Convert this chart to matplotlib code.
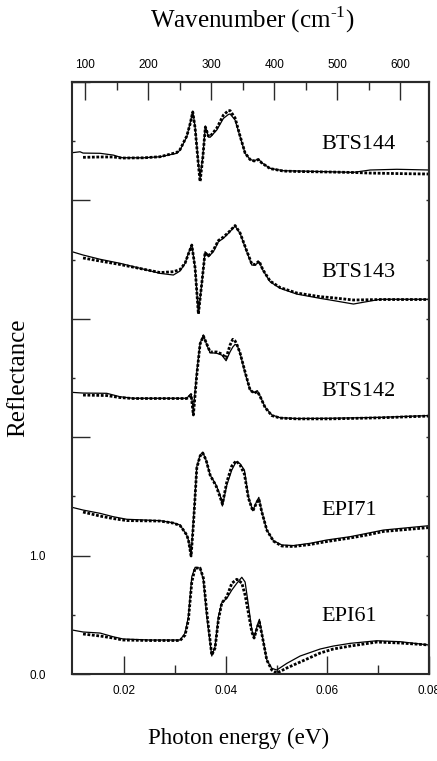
import numpy as np
import matplotlib
matplotlib.use("Agg")
import matplotlib.pyplot as plt
from matplotlib.ticker import FixedLocator, FixedFormatter, NullFormatter

plt.rcParams['mathtext.fontset'] = 'custom'
plt.rcParams['mathtext.rm'] = 'Liberation Serif'

nan = np.nan
EV_TO_CM = 8065.54

# sample names and vertical offsets
samples = ["EPI61", "EPI71", "BTS142", "BTS143", "BTS144"]
offsets = [0, 1, 2, 3, 4]

# EPI61: photon energy (eV), measured, fit
e_epi61 = [0.00976, 0.01193, 0.01528, 0.01783, 0.01980, 0.02512, 0.03102, 0.03201,
           0.03266, 0.03333, 0.03398, 0.03496, 0.03561, 0.03628, 0.03726, 0.03791,
           0.03856, 0.03923, 0.04022, 0.04120, 0.04218, 0.04317, 0.04382, 0.04447,
           0.04514, 0.04559, 0.04624, 0.04663, 0.04711, 0.04809, 0.04907, 0.05006,
           0.05203, 0.05465, 0.05858, 0.06114, 0.06449, 0.06974, 0.07433, 0.08004]
r_epi61 = [0.372, 0.355, 0.346, 0.315, 0.296, 0.287, 0.287, 0.346,
           0.484, 0.822, 0.901, 0.895, 0.794, 0.484, 0.152, 0.231,
           0.484, 0.602, 0.639, 0.709, 0.766, 0.817, 0.777, 0.583,
           0.372, 0.302, 0.414, 0.462, 0.344, 0.118, 0.048, 0.034,
           0.090, 0.152, 0.211, 0.236, 0.259, 0.281, 0.273, 0.245]
f_epi61 = [nan, 0.338, 0.321, 0.304, 0.287, 0.283, 0.283, 0.329,
           0.456, 0.777, 0.895, 0.895, 0.811, 0.524, 0.160, 0.220,
           0.456, 0.600, 0.653, 0.766, 0.800, 0.769, 0.667, 0.515,
           0.355, 0.304, 0.397, 0.439, 0.338, 0.118, 0.034, 0.008,
           0.051, 0.101, 0.177, 0.211, 0.236, 0.270, 0.262, 0.245]

# EPI71
e_epi71 = [0.00976, 0.01193, 0.01528, 0.01783, 0.02053, 0.02709, 0.02965, 0.03102,
           0.03167, 0.03234, 0.03266, 0.03319, 0.03364, 0.03388, 0.03431, 0.03496,
           0.03549, 0.03614, 0.03693, 0.03811, 0.03890, 0.03935, 0.04022, 0.04120,
           0.04205, 0.04283, 0.04368, 0.04447, 0.04533, 0.04598, 0.04652, 0.04711,
           0.04809, 0.04939, 0.05104, 0.05333, 0.05661, 0.05990, 0.06449, 0.06778,
           0.07104, 0.08004]
r_epi71 = [0.408, 0.385, 0.357, 0.329, 0.307, 0.295, 0.278, 0.258,
           0.216, 0.174, 0.132, 0.005, 0.301, 0.444, 0.751, 0.850,
           0.872, 0.807, 0.681, 0.596, 0.512, 0.419, 0.596, 0.723,
           0.793, 0.776, 0.723, 0.497, 0.379, 0.447, 0.492, 0.371,
           0.216, 0.126, 0.090, 0.085, 0.104, 0.132, 0.160, 0.188,
           0.216, 0.253]
f_epi71 = [nan, 0.368, 0.334, 0.313, 0.296, 0.292, 0.275, 0.254,
           0.216, 0.174, 0.132, -0.003, 0.258, 0.427, 0.740, 0.841,
           0.867, 0.807, 0.681, 0.588, 0.495, 0.436, 0.622, 0.757,
           0.800, 0.765, 0.689, 0.486, 0.377, 0.436, 0.478, 0.368,
           0.216, 0.123, 0.081, 0.077, 0.094, 0.119, 0.149, 0.174,
           0.204, 0.237]

# BTS142
e_bts142 = [0.00976, 0.01193, 0.01659, 0.01921, 0.02177, 0.02709, 0.03234, 0.03319,
            0.03364, 0.03431, 0.03496, 0.03561, 0.03628, 0.03693, 0.03825, 0.03923,
            0.04008, 0.04087, 0.04140, 0.04185, 0.04224, 0.04283, 0.04382, 0.04480,
            0.04559, 0.04624, 0.04677, 0.04776, 0.04907, 0.05071, 0.05400, 0.06055,
            0.07039, 0.08004]
r_bts142 = [0.379, 0.373, 0.371, 0.342, 0.329, 0.329, 0.329, 0.369,
            0.230, 0.551, 0.793, 0.863, 0.779, 0.714, 0.709, 0.694,
            0.646, 0.722, 0.762, 0.784, 0.779, 0.709, 0.540, 0.399,
            0.376, 0.393, 0.348, 0.253, 0.188, 0.165, 0.158, 0.160,
            0.168, 0.183]
f_bts142 = [nan, 0.356, 0.352, 0.335, 0.327, 0.327, 0.327, 0.356,
            0.188, 0.525, 0.787, 0.855, 0.787, 0.720, 0.720, 0.703,
            0.669, 0.780, 0.827, 0.813, 0.779, 0.711, 0.551, 0.399,
            0.373, 0.386, 0.344, 0.251, 0.183, 0.162, 0.155, 0.155,
            0.164, 0.179]

# BTS143
e_bts143 = [0.00976, 0.01193, 0.01528, 0.01921, 0.02315, 0.02709, 0.02970, 0.03102,
            0.03201, 0.03266, 0.03333, 0.03398, 0.03463, 0.03530, 0.03594, 0.03659,
            0.03758, 0.03856, 0.03955, 0.04053, 0.04185, 0.04283, 0.04415, 0.04514,
            0.04579, 0.04657, 0.04730, 0.04874, 0.05071, 0.05400, 0.05858, 0.06055,
            0.06514, 0.07039, 0.08004]
r_bts143 = [0.567, 0.539, 0.503, 0.469, 0.427, 0.384, 0.370, 0.404,
            0.469, 0.553, 0.628, 0.429, 0.046, 0.300, 0.567, 0.524,
            0.567, 0.651, 0.680, 0.722, 0.784, 0.722, 0.567, 0.454,
            0.454, 0.482, 0.412, 0.313, 0.258, 0.209, 0.173, 0.159,
            0.125, 0.165, 0.165]
f_bts143 = [nan, 0.514, 0.488, 0.459, 0.425, 0.391, 0.398, 0.416,
            0.471, 0.547, 0.623, 0.429, 0.041, 0.302, 0.560, 0.530,
            0.581, 0.661, 0.691, 0.729, 0.788, 0.725, 0.573, 0.463,
            0.459, 0.488, 0.416, 0.319, 0.264, 0.218, 0.187, 0.180,
            0.159, 0.163, 0.163]

# BTS144
e_bts144 = [0.00976, 0.01134, 0.01193, 0.01528, 0.01789, 0.01955, 0.02380, 0.02709,
            0.03037, 0.03102, 0.03234, 0.03299, 0.03352, 0.03398, 0.03463, 0.03496,
            0.03549, 0.03600, 0.03659, 0.03693, 0.03825, 0.03955, 0.04053, 0.04087,
            0.04185, 0.04283, 0.04382, 0.04480, 0.04559, 0.04644, 0.04711, 0.04874,
            0.05136, 0.05465, 0.06055, 0.06514, 0.06843, 0.07368, 0.08004]
r_bts144 = [0.403, 0.411, 0.400, 0.398, 0.383, 0.361, 0.360, 0.369,
            0.398, 0.426, 0.538, 0.651, 0.753, 0.620, 0.313, 0.195,
            0.369, 0.628, 0.538, 0.533, 0.595, 0.693, 0.726, 0.730,
            0.679, 0.538, 0.398, 0.347, 0.335, 0.350, 0.318, 0.271,
            0.251, 0.248, 0.242, 0.237, 0.257, 0.263, 0.257]
f_bts144 = [nan, nan, 0.364, 0.367, 0.367, 0.358, 0.360, 0.369,
            0.405, 0.430, 0.544, 0.645, 0.747, 0.611, 0.299, 0.160,
            0.358, 0.620, 0.544, 0.540, 0.611, 0.721, 0.759, 0.758,
            0.696, 0.544, 0.400, 0.345, 0.333, 0.345, 0.316, 0.269,
            0.248, 0.244, 0.240, 0.236, 0.231, 0.227, 0.223]

energies = [e_epi61, e_epi71, e_bts142, e_bts143, e_bts144]
measured = [r_epi61, r_epi71, r_bts142, r_bts143, r_bts144]
fitted = [f_epi61, f_epi71, f_bts142, f_bts143, f_bts144]
label_y = [0.49, 1.38, 2.39, 3.39, 4.47]

fig = plt.figure(figsize=(4.37, 7.61), dpi=100)
ax = fig.add_axes([0.1648, 0.1143, 0.818, 0.7779])

for e, r, f, off in zip(energies, measured, fitted, offsets):
    ax.plot(e, np.array(r) + off, color='black', lw=0.9)
    ax.plot(e, np.array(f) + off, color='black', lw=2.0, linestyle=(0, (1.0, 0.6)))

for name, yl in zip(samples, label_y):
    ax.text(0.0589, yl, name, fontsize=16, family='Liberation Serif',
            ha='left', va='center')

ax.set_xlim(0.00976, 0.0801)
ax.set_ylim(0, 5)

tick_font = 'Liberation Sans'
spine_c = '#2a2a2a'

ax.xaxis.set_major_locator(FixedLocator([0.02, 0.04, 0.06, 0.08]))
ax.xaxis.set_major_formatter(FixedFormatter(['0.02', '0.04', '0.06', '0.08']))
ax.xaxis.set_minor_locator(FixedLocator([0.03, 0.05, 0.07]))
ax.yaxis.set_major_locator(FixedLocator([0, 1, 2, 3, 4, 5]))
ax.yaxis.set_major_formatter(FixedFormatter(['0.0', '1.0', '', '', '', '']))
ax.yaxis.set_minor_locator(FixedLocator([0.5, 1.5, 2.5, 3.5, 4.5]))

ax.tick_params(axis='x', which='major', direction='in', length=13, width=1.0,
               pad=8, labelsize=8.5, top=False, color=spine_c)
ax.tick_params(axis='x', which='minor', direction='in', length=6.5, width=1.0,
               top=False, color=spine_c)
ax.tick_params(axis='y', which='major', direction='in', length=13, width=1.0,
               pad=19, labelsize=8.5, right=False, color=spine_c)
ax.tick_params(axis='y', which='minor', direction='in', length=2.5, width=1.0,
               right=False, color=spine_c)
for lab in ax.get_xticklabels() + ax.get_yticklabels():
    lab.set_family(tick_font)

for s in ax.spines.values():
    s.set_linewidth(1.5)
    s.set_color(spine_c)

# top axis in wavenumber
top = ax.secondary_xaxis('top', functions=(lambda x: x * EV_TO_CM,
                                           lambda x: x / EV_TO_CM))
top.xaxis.set_major_locator(FixedLocator([100, 200, 300, 400, 500, 600]))
top.xaxis.set_minor_locator(FixedLocator([150, 250, 350, 450, 550]))
top.xaxis.set_minor_formatter(NullFormatter())
top.tick_params(axis='x', which='major', direction='in', length=13, width=1.0,
                pad=8, labelsize=8.5, color=spine_c)
top.tick_params(axis='x', which='minor', direction='in', length=6, width=1.0,
                color=spine_c)
for lab in top.get_xticklabels():
    lab.set_family(tick_font)
top.spines['top'].set_linewidth(1.5)
top.spines['top'].set_color(spine_c)

# right axis: small ticks only
right = ax.secondary_yaxis('right')
right.yaxis.set_major_locator(FixedLocator([0.5, 1, 1.5, 2, 2.5, 3, 3.5, 4, 4.5]))
right.yaxis.set_major_formatter(NullFormatter())
right.tick_params(axis='y', direction='in', length=2.5, width=1.0, color=spine_c)
right.spines['right'].set_linewidth(1.5)
right.spines['right'].set_color(spine_c)

# axis titles
fig.text(252 / 437, 1 - 20 / 761, 'Wavenumber (cm$^{\\text{-}1}$)', fontsize=18,
         family='Liberation Serif', ha='center', va='center')
fig.text(239 / 437, 1 - 738 / 761, 'Photon energy (eV)', fontsize=16.6,
         family='Liberation Serif', ha='center', va='center')
fig.text(18 / 437, 1 - 378 / 761, 'Reflectance', fontsize=18, rotation=90,
         family='Liberation Serif', ha='center', va='center')

fig.savefig('out.png', dpi=100)
